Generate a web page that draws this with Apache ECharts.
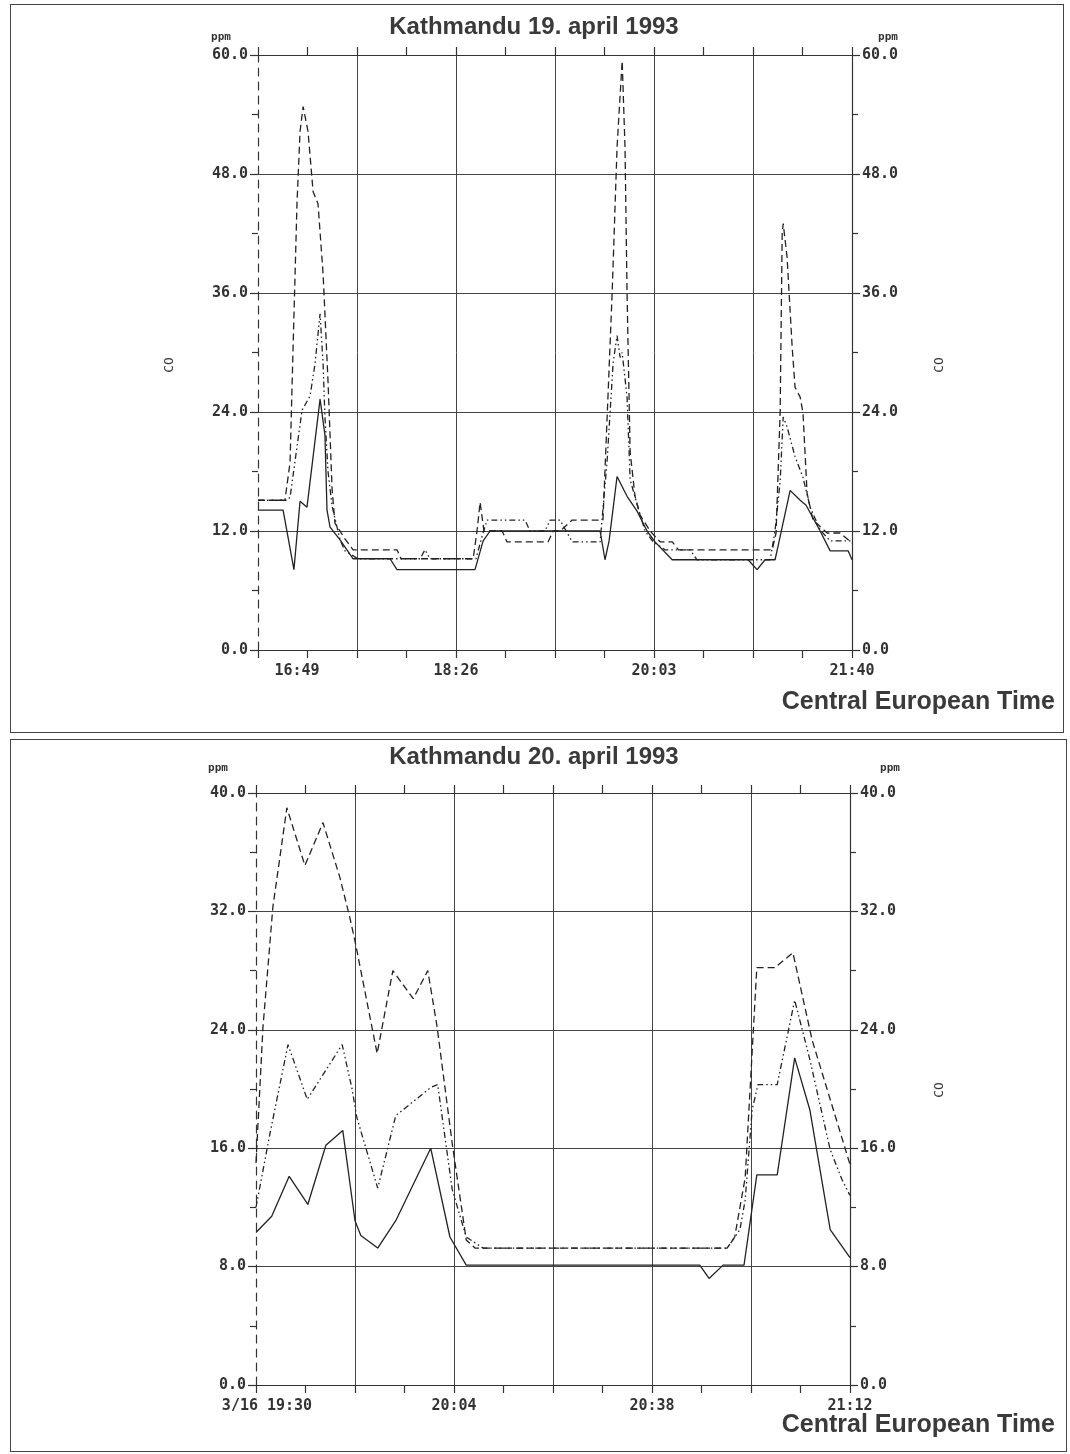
<!DOCTYPE html>
<html>
<head>
<meta charset="utf-8">
<script src="https://cdn.jsdelivr.net/npm/echarts/dist/echarts.min.js"></script>
<style>
  body { margin: 0; background: #fff; width: 1070px; height: 1454px; position: relative; }
  .panel { position: absolute; border: 1px solid #444; box-sizing: border-box; background: #fff; }
  #day19 { left: 10px; top: 4px; width: 1054px; height: 729px; }
  #day20 { left: 10px; top: 739px; width: 1057px; height: 713px; }
</style>
</head>
<body>
<div id="day19" class="panel"></div>
<div id="day20" class="panel"></div>
<script>
// minutes after the first label, CO in ppm
var day19Labels = ['16:49', '18:26', '20:03', '21:40'];
var day20Labels = ['3/16 19:30', '20:04', '20:38', '21:12'];

var day19Solid = [[0,14.1],[12.3,14.1],[17.6,8.1],[20.6,15],[24,14.4],[30.4,25.3],[32.8,21.7],[33.8,14.1],[35.3,12.4],[40.2,11.1],[46.6,9.2],[64.7,9.2],[68.1,8.1],[106.3,8.1],[110.3,11],[113.7,12],[167.6,12],[170,9.1],[172,11],[175.9,17.5],[180.8,15.5],[185.7,14],[190.6,12],[194.5,10.9],[202.9,9.1],[240.1,9.1],[244.5,8.1],[248.4,9.1],[253.3,9.1],[254.8,10.5],[260.7,16.1],[265.6,15.1],[268.5,14.6],[275.4,12],[280.3,10],[289.1,10],[291,9.1]];
var day19Dash = [[0,15.1],[13.2,15.1],[15.7,18.9],[17.2,30.6],[19.1,45],[20.6,52.3],[22.1,54.8],[24.5,52.3],[27,46.2],[29.4,45],[31.9,37.9],[34.3,27.1],[36.3,16.2],[37.7,12.8],[42.6,11.2],[46.6,10.1],[68.1,10.1],[70.1,9.2],[105.4,9.2],[107.3,12],[108.8,14.9],[110.7,12],[119.6,12],[122,10.9],[142.1,10.9],[144.6,12],[148,12],[153.9,13.1],[169,13.1],[173.5,36],[175.9,50.7],[178.4,59.4],[179.8,50.7],[180.8,36],[182.3,20],[184.7,15.5],[187.2,13.6],[192.1,12],[197,10.9],[203,10.9],[206,10.1],[251.9,10.1],[253.8,11.8],[255.8,24],[256.8,42],[257.3,43],[259.2,39.6],[261.7,30.5],[263.1,26.5],[265.6,25.5],[267,23.9],[269,15.8],[271.9,13.1],[278.8,11.8],[285.2,11.8],[291,10.8]];
var day19DashDot = [[0,15.1],[14.2,15.1],[15.7,15.4],[21.6,24.2],[25.5,25.6],[27.9,28.8],[30.4,33.9],[31.9,28.8],[32.8,23.5],[34.3,18],[36.3,14.5],[40.2,11.1],[42.6,10],[49,9.2],[79.4,9.2],[81.8,10.1],[84.3,9.2],[106.8,9.2],[109.8,11.5],[112.2,13.1],[130.8,13.1],[133.3,12],[140.6,12],[143.1,13.1],[148,13.1],[153.9,10.9],[167.6,10.9],[171,19],[174,29],[175.9,31.7],[177.4,29.5],[178.4,30],[180.8,25.5],[182.3,17.2],[185.7,14.7],[189.6,12],[193.6,10.9],[199.4,10.1],[211.7,10.1],[215.1,9.1],[250.9,9.1],[253.3,12],[255.8,17],[257.3,23.5],[259.2,22.5],[263.1,19.5],[267,17.4],[270.5,14.4],[275.4,12.1],[280.3,11],[291,11]];

var day20Solid = [[0,10.3],[2.7,11.4],[5.7,14.1],[8.9,12.2],[12,16.2],[14.9,17.2],[17,11.1],[18,10.1],[20.9,9.25],[24,11.1],[30,16],[33.3,10],[36.1,8.1],[76.2,8.1],[77.8,7.2],[80.2,8.1],[83.8,8.1],[86,14.2],[89.5,14.2],[92.5,22.1],[95.1,18.6],[98.6,10.5],[102,8.6]];
var day20Dash = [[0,15],[1.2,24.2],[2.9,32.3],[5.3,39],[8.4,35.1],[11.5,38],[14.4,34.3],[16.1,31.6],[17,30],[20.8,22.4],[23.5,28],[27,26.1],[29.5,28],[31.1,24.2],[33.7,16.3],[36.1,9.8],[37.6,9.25],[80.9,9.25],[82.2,10],[84,14],[86,28.2],[89.1,28.2],[92.2,29.2],[95.5,23.3],[98.6,19.3],[102,14.9]];
var day20DashDot = [[0,12],[2.4,17],[5.5,23],[8.8,19.3],[14.8,23],[16.5,20],[17.3,18.1],[20.9,13.3],[24,18.2],[30,20.1],[31.2,20.3],[33.7,13.2],[36.1,10],[39,9.25],[80.9,9.25],[83.1,10.5],[84,12.5],[85.2,18.6],[86.2,20.3],[89.5,20.3],[92.5,26],[95.1,22],[98.6,15.9],[100.6,13.9],[102,12.8]];

var ink = '#333';
var mono = 'DejaVu Sans Mono';

function buildOption(cfg) {
    var lineSt = { color: ink, width: 1.2 };
    var tickLbl = { color: ink, fontFamily: mono, fontWeight: 'bold', fontSize: 15 };
    var xBase = {
        type: 'value', min: 0, max: cfg.xMax, interval: cfg.xStep,
        axisLine: { show: true, onZero: false, lineStyle: lineSt },
        axisTick: { show: true, length: 8, lineStyle: lineSt },
        minorTick: { show: true, splitNumber: 2, length: 8, lineStyle: lineSt },
        axisLabel: { show: false }
    };
    var yBase = {
        type: 'value', min: 0, max: cfg.yMax, interval: cfg.yStep,
        axisLine: { show: true, onZero: false, lineStyle: lineSt },
        axisTick: { show: true, length: 8, lineStyle: lineSt },
        minorTick: { show: true, splitNumber: 2, length: 6, lineStyle: lineSt },
        splitLine: { show: false },
        axisLabel: Object.assign({ margin: 10, formatter: function (v) { return v.toFixed(1); } }, tickLbl)
    };

    function series(data, type) {
        return {
            type: 'line', data: data, showSymbol: false, silent: true,
            lineStyle: { color: '#222', width: 1.3, type: type }
        };
    }

    var graphics = [
        { type: 'text', x: cfg.titleX, y: cfg.titleY,
          style: { text: cfg.title, fill: '#3a3a3a', font: 'bold 24px "Liberation Sans", Arial, sans-serif', textAlign: 'center', textVerticalAlign: 'middle' } },
        { type: 'text', x: 1044, y: cfg.cetY,
          style: { text: 'Central European Time', fill: '#3a3a3a', font: 'bold 25px "Liberation Sans", Arial, sans-serif', textAlign: 'right', textVerticalAlign: 'middle' } },
        { type: 'text', x: cfg.ppmLeftX, y: cfg.ppmY,
          style: { text: 'ppm', fill: ink, font: 'bold 11px ' + mono, textAlign: 'center', textVerticalAlign: 'middle' } },
        { type: 'text', x: cfg.ppmRightX, y: cfg.ppmY,
          style: { text: 'ppm', fill: ink, font: 'bold 11px ' + mono, textAlign: 'center', textVerticalAlign: 'middle' } }
    ];
    cfg.coLabels.forEach(function (p) {
        graphics.push({ type: 'text', x: p[0], y: p[1], rotation: Math.PI / 2,
            style: { text: 'CO', fill: ink, font: '13px ' + mono, textAlign: 'center', textVerticalAlign: 'middle' } });
    });

    return {
        animation: false,
        grid: { left: cfg.gridLeft, top: cfg.gridTop, width: 594, height: cfg.gridHeight },
        xAxis: [
            Object.assign({}, xBase, {
                position: 'bottom',
                splitLine: { show: true, showMinLine: false, lineStyle: { color: '#444', width: 1 } },
                axisLabel: Object.assign({
                    show: true, margin: 14, showMaxLabel: true,
                    formatter: function (v) {
                        var k = Math.round(v / cfg.xStep);
                        if (k % 2 !== 0) return '';
                        return k === 0 ? '{first|' + cfg.labels[0] + '}' : cfg.labels[k / 2];
                    },
                    rich: { first: Object.assign({ padding: [0, 0, 0, cfg.firstPad] }, tickLbl) }
                }, tickLbl)
            }),
            Object.assign({}, xBase, { position: 'top', splitLine: { show: false } })
        ],
        yAxis: [
            Object.assign({}, yBase, {
                position: 'left',
                axisLine: { show: true, onZero: false, lineStyle: { color: ink, width: 1.2, type: [8, 6] } },
                splitLine: { show: true, lineStyle: { color: '#444', width: 1 } }
            }),
            Object.assign({}, yBase, { position: 'right' })
        ],
        graphic: graphics,
        series: [
            series(cfg.solid, 'solid'),
            series(cfg.dash, [7, 4]),
            series(cfg.dashDot, [6, 3, 1.5, 3, 1.5, 3])
        ]
    };
}

var chart19 = echarts.init(document.getElementById('day19'));
chart19.setOption(buildOption({
    title: 'Kathmandu 19. april 1993', titleX: 523, titleY: 22, cetY: 697,
    xMax: 291, xStep: 48.5, yMax: 60, yStep: 12, labels: day19Labels, firstPad: 78,
    gridLeft: 247, gridTop: 50, gridHeight: 595,
    ppmLeftX: 210, ppmRightX: 877, ppmY: 32,
    coLabels: [[159, 360], [929, 360]],
    solid: day19Solid, dash: day19Dash, dashDot: day19DashDot
}));

var chart20 = echarts.init(document.getElementById('day20'));
chart20.setOption(buildOption({
    title: 'Kathmandu 20. april 1993', titleX: 523, titleY: 17, cetY: 685,
    xMax: 102, xStep: 17, yMax: 40, yStep: 8, labels: day20Labels, firstPad: 22,
    gridLeft: 245, gridTop: 53, gridHeight: 592,
    ppmLeftX: 207, ppmRightX: 879, ppmY: 28,
    coLabels: [[929, 350]],
    solid: day20Solid, dash: day20Dash, dashDot: day20DashDot
}));
</script>
</body>
</html>
